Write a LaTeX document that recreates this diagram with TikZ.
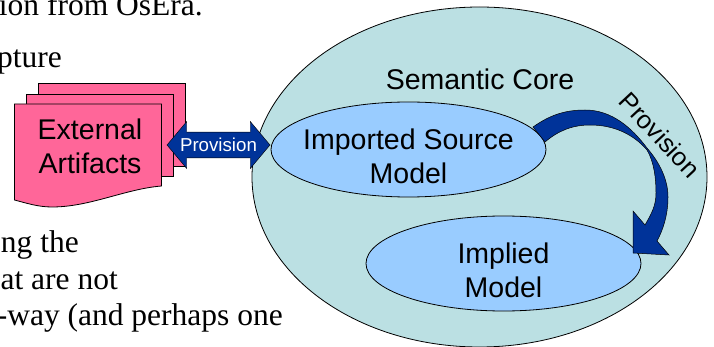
\documentclass[tikz,border=0pt]{standalone}
\usepackage{fontspec}
\setmainfont{Liberation Serif}
\newfontfamily\diagramfont{Liberation Sans}
\usepackage{xcolor}
\usetikzlibrary{shapes.arrows, shapes.geometric, positioning}
\definecolor{corefill}{RGB}{187,224,227}
\definecolor{modelfill}{RGB}{153,204,255}
\definecolor{artifactfill}{RGB}{255,102,153}
\definecolor{provisionfill}{RGB}{0,51,153}

\begin{document}
\begin{tikzpicture}[ x = 1pt
                     , y = -1pt
                     , align = center
                     , inner sep = 0pt
                     , every node/.style = { font = \diagramfont\fontsize{28.5}{34}\selectfont }
                     , body/.style = { anchor = base east
                                     , font = \fontsize{31.5}{36}\selectfont }
                     , outline/.style = { draw = black, line width = 0.8pt }
                     , model/.style = { ellipse, outline, fill = modelfill
                                      , minimum width = 275pt
                                      , minimum height = 95pt }
                     ]

  \useasboundingbox (0,0) rectangle (714,347);
  \clip (0,0) rectangle (714,347);

  % surrounding page text
  \node (textone) [body] at (203,16) {ion from OsEra.};
  \node (texttwo) [body] at (62,68) {pture};
  \node (textthree) [body] at (79,252) {ng the};
  \node (textfour) [body] at (118,289) {at are not};
  \node (textfive) [body] at (283,325) {-way (and perhaps one};

  % stacked documents
  \draw[outline, fill = artifactfill] (38,83) -- (185,83) -- (185,166) -- (38,166) -- cycle;
  \draw[outline, fill = artifactfill] (26.5,94) -- (173,94) -- (173,176) -- (26.5,176) -- cycle;
  \draw[outline, fill = artifactfill] (14.5,104) -- (161.5,104) -- (161.5,186)
  .. controls (125,189) and (90,207) .. (52,207)
  .. controls (38,207) and (26,203) .. (14.5,200) -- cycle;
  \node (artifacts) at (90,146) {External\\Artifacts};

  % semantic core
  \node (core) [ellipse, outline, fill = corefill, minimum width = 455pt, minimum height = 340pt]
  at (479.5,177) {};
  \node (corelabel) [anchor = base] at (480,90) {Semantic Core};
  \node (imported) [model] at (408.5,149.5) {};
  \node (importedlabel) at (408.5,156) {Imported Source\\Model};
  \node (implied) [model] at (503.5,263.5) {};
  \node (impliedlabel) at (503.5,270) {Implied\\Model};

  \node (provision) [ double arrow
                    , fill = provisionfill
                    , draw = black
                    , line width = 0.4pt
                    , text = white
                    , font = \diagramfont\fontsize{18.7}{20}\selectfont
                    , minimum height = 103pt
                    , minimum width = 47pt
                    , inner xsep = 2pt
                    , inner ysep = 5pt
                    , double arrow head extend = 10pt
                    , double arrow tip angle = 100 ]
  at (218.5,145) {Provision};

  % curved block arrow
  \coordinate (bendend) at (633,253);
  \draw[outline, line width = 0.5pt, fill = provisionfill] (533,127)
  .. controls (550,115) and (565,110) .. (585,110)
  .. controls (612,110) and (632,128) .. (647,148)
  .. controls (660,163) and (668,180) .. (668,197)
  .. controls (668,215) and (663,230) .. (657,241)
  -- (669,255) -- (bendend) -- (633,211) -- (645,225)
  .. controls (652,213) and (656,205) .. (656,193)
  .. controls (656,178) and (654,162) .. (647,150)
  .. controls (634,135) and (615,125) .. (590,125)
  .. controls (572,125) and (558,131) .. (545,142) -- cycle;
  \node (bendlabel) [rotate = -47, font = \diagramfont\fontsize{25.5}{30}\selectfont] at (660,135) {Provision};

\end{tikzpicture}
\end{document}
